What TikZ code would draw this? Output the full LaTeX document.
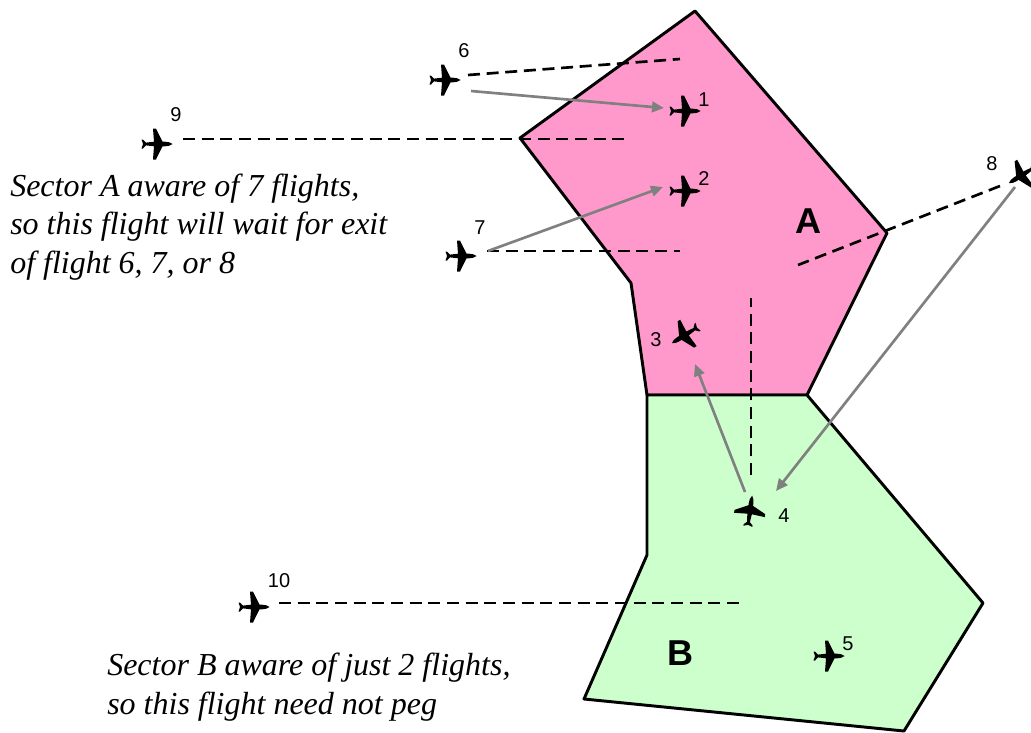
\documentclass[tikz,border=0pt]{standalone}
\usepackage{fontspec}
\usetikzlibrary{arrows.meta}
\setmainfont{Liberation Serif}
\newfontfamily\labelfont{Liberation Sans}
\begin{document}
\begin{tikzpicture}[
  x=0.75pt, y=-0.75pt,
  sector/.style={draw, line width=2.2pt, line join=round},
  flight/.style={circle, inner sep=0pt, minimum size=22pt},
  num/.style={font=\labelfont\fontsize{15}{18}\selectfont, inner sep=0pt},
  letter/.style={font=\labelfont\bfseries\fontsize{27}{32}\selectfont, inner sep=0pt},
  note/.style={font=\itshape\fontsize{24}{29}\selectfont, align=left, anchor=west, inner sep=0pt},
  route/.style={dash pattern=on 9pt off 5pt, line width=2pt},
  arr/.style={-{Triangle[length=9pt,width=8pt]}, line width=2pt, draw=gray, fill=gray},
  plane/.pic={
    \fill (15.5,0) .. controls (13,-1.8) and (11,-2.3) .. (8,-2.3) -- (5.5,-2.3) -- (-1,-15.5) -- (-4,-15.5)
      -- (-3,-2.3) -- (-11,-1.4) -- (-14,-4.5) -- (-15.5,-4.5) -- (-14,0)
      -- (-15.5,4.5) -- (-14,4.5) -- (-11,1.4) -- (-3,2.3) -- (-4,15.5) -- (-1,15.5) -- (5.5,2.3) -- (8,2.3)
      .. controls (11,2.3) and (13,1.8) .. (15.5,0) -- cycle;
  }
]
  \useasboundingbox (0,0) rectangle (1031,732);
  % sectors
  \fill[sector, fill={rgb,255:red,255;green,153;blue,204}] (695,11) -- (887,233) -- (807,395) -- (647,395) -- (631,283) -- (520,138) -- cycle;
  \fill[sector, fill={rgb,255:red,204;green,255;blue,204}] (647,395) -- (807,395) -- (983,603) -- (904,731) -- (584,699) -- (647,555) -- cycle;
  \node[letter] (la) at (808,221) {A};
  \node[letter] (lb) at (680,653) {B};
  % flights
  \node[flight] (f1) at (685,111) {};
  \node[flight] (f2) at (685,191) {};
  \node[flight] (f3) at (685,335) {};
  \node[flight] (f4) at (750,511) {};
  \node[flight] (f5) at (829,656) {};
  \node[flight] (f6) at (445,80) {};
  \node[flight] (f7) at (461,256) {};
  \node[flight] (f8) at (1022,175) {};
  \node[flight] (f9) at (157,144) {};
  \node[flight] (f10) at (254,607) {};
  \foreach \f in {f1,f2,f5,f6,f7,f9,f10}
    \pic at (\f) {plane};
  \pic[rotate=212] at (f3) {plane};
  \pic[rotate=82] at (f4) {plane};
  \pic[rotate=212] at (f8) {plane};
  % numbers
  \node[num] (n1) at (704,100) {1};
  \node[num] (n2) at (704,179) {2};
  \node[num] (n3) at (656,340) {3};
  \node[num] (n4) at (784,516) {4};
  \node[num] (n5) at (848,644) {5};
  \node[num] (n6) at (464,51) {6};
  \node[num] (n7) at (480,228) {7};
  \node[num] (n8) at (992,164) {8};
  \node[num] (n9) at (176,115) {9};
  \node[num] (n10) at (279,581) {10};
  % notes
  \node[note] (sa) at (10,227) {Sector A aware of 7 flights,\\so this flight will wait for exit\\of flight 6, 7, or 8};
  \node[note] (sb) at (107,687) {Sector B aware of just 2 flights,\\so this flight need not peg};
  % ends of the dashed lines
  \coordinate (e6) at (680,59);
  \coordinate (e7) at (680,251);
  \coordinate (e8) at (798,265);
  \coordinate (e9) at (625,139);
  \coordinate (e4) at (751,298);
  \coordinate (e10) at (740,603);
  % dashed lines
  \draw[route] ([shift={(23,-5)}]f6.center) -- (e6);
  \draw[route] ([shift={(26,-5)}]f7.center) -- (e7);
  \draw[route] ([shift={(-22,11)}]f8.center) -- (e8);
  \draw[route] ([shift={(26,-5)}]f9.center) -- (e9);
  \draw[route] ([shift={(1,-36)}]f4.center) -- (e4);
  \draw[route] ([shift={(25,-4)}]f10.center) -- (e10);
  % arrows
  \draw[arr] ([shift={(26,11)}]f6.center) -- ([shift={(-21,-3)}]f1.center);
  \draw[arr] ([shift={(27,-5)}]f7.center) -- ([shift={(-22,-4)}]f2.center);
  \draw[arr] ([shift={(-5,-19)}]f4.center) -- ([shift={(10,29)}]f3.center);
  \draw[arr] ([shift={(-7,12)}]f8.center) -- ([shift={(26,-20)}]f4.center);
\end{tikzpicture}
\end{document}
